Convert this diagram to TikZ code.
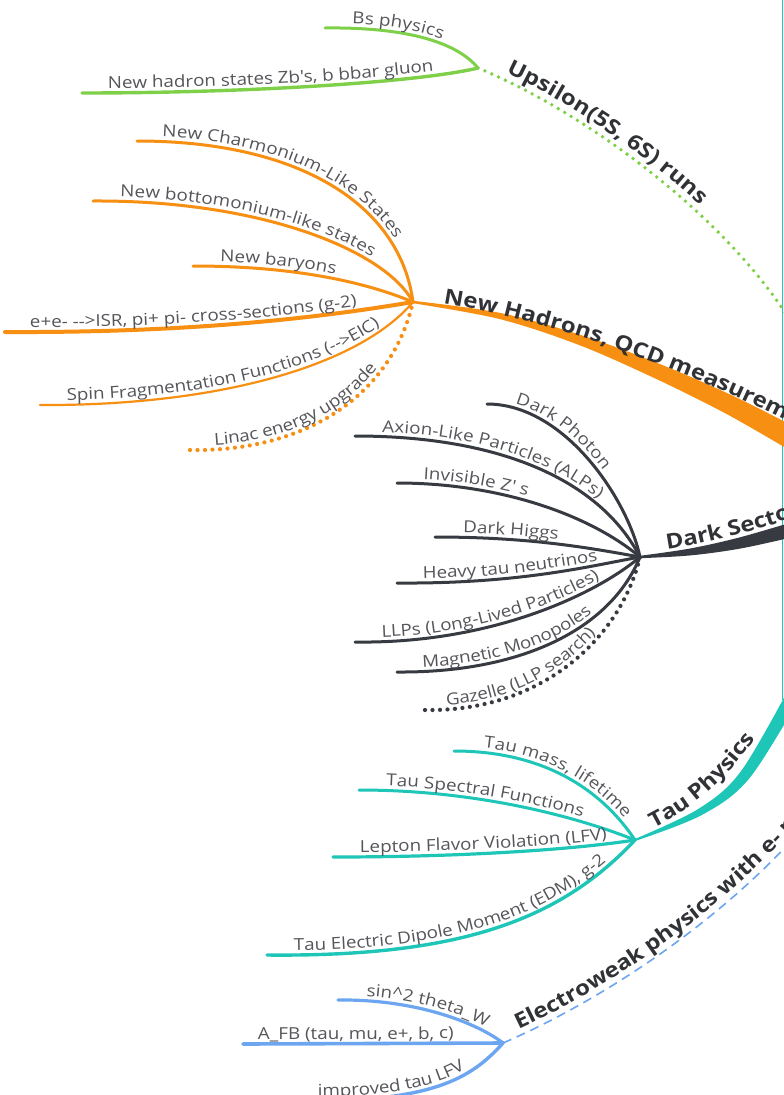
\documentclass[tikz,border=0pt]{standalone}
\usepackage{fontspec}
\setmainfont{Open Sans}[FakeStretch=1.14]
\usetikzlibrary{decorations.text,calc}
\definecolor{cgreen}{RGB}{125,208,72}
\definecolor{corange}{RGB}{247,143,18}
\definecolor{cdark}{RGB}{55,58,64}
\definecolor{cteal}{RGB}{30,198,184}
\definecolor{cblue}{RGB}{108,165,240}
\definecolor{ctext}{RGB}{85,85,90}
\definecolor{ctitle}{RGB}{48,50,54}
\newcommand\leaffont{\fontsize{16.5}{18}\selectfont}
\newcommand\titlefont{\fontsize{21}{24}\selectfont\bfseries}
\tikzset{
  branch/.style={line width=#1, line cap=round, line join=round},
  dotline/.style={line width=4.2pt, line cap=round, dash pattern=on 0pt off 7.5pt},
  lbl/.style 2 args={decorate, decoration={text along path,
      text={|\leaffont|#2}, text color=ctext, raise=4.5pt,
      text align={left indent=#1}}},
  tlbl/.style n args={3}{decorate, decoration={text along path,
      text={|\titlefont|#3}, text color=ctitle, raise=#2,
      text align={left indent=#1}}},
  sm/.style={smooth, tension=0.55},
}
% #1 line style, #2 leaf end, #3 control 1, #4 control 2, #5 hub, #6 indent, #7 text
\newcommand\leafline[7]{%
  \draw[#1] (#2) .. controls (#3) and (#4) .. (#5);
  \path[lbl={#6}{#7}] (#2) .. controls (#3) and (#4) .. (#5) -- ($(#4)!3!(#5)$);
}
\begin{document}
\begin{tikzpicture}[x=1pt,y=-1pt]
\useasboundingbox (0,0) rectangle (784,1095);
\fill[white] (0,0) rectangle (784,1095);

% thin teal line at right edge
\coordinate (edgeTop) at (782.6,0);
\coordinate (edgeBot) at (782.6,700);
\draw[cteal, line width=1.6pt] (edgeTop) -- (edgeBot);

% ---------------- Green: Upsilon ----------------
\coordinate (gHub) at (478,68);
\coordinate (gBs) at (325,28);
\coordinate (gNH) at (82,93);
\coordinate (gEnd) at (790,320);
\leafline{cgreen, branch=3pt}{gBs}{400,27}{455,40}{gHub}{27pt}{Bs physics}
\leafline{cgreen, branch=3.4pt}{gNH}{250,93}{420,82}{gHub}{26pt}{New hadron states Zb{\textquotesingle}s, b bbar gluon}
\draw[cgreen, dotline, line width=3.8pt] (gHub) .. controls (580,110) and (720,210) .. (gEnd);
\path[tlbl={27pt}{7pt}{Upsilon(5S, 6S) runs}] (gHub) .. controls (580,110) and (720,210) .. (gEnd) -- (860,430);

% ---------------- Orange: New Hadrons ----------------
\coordinate (oHub) at (413,302);
\coordinate (oC) at (137,141);
\coordinate (oB) at (93,201);
\coordinate (oBa) at (193,266);
\coordinate (oI) at (5,332);
\coordinate (oS) at (40,405);
\coordinate (oL) at (190,450);
\coordinate (oEnd) at (800,431);
\fill[corange] plot[sm] coordinates {(413.2,300.8) (500.6,313) (581.5,335.2) (659.8,364) (734,396.3) (800.2,429.7)}
  -- plot[sm] coordinates {(789.8,450.3) (726,413.7) (654.2,378) (578.5,344.8) (499.4,319) (412.8,303.2)} -- cycle;
\path[tlbl={30pt}{3pt}{New Hadrons, QCD measurements}]
  (oHub) .. controls (540,318) and (680,370) .. (oEnd) -- (960,517);
\leafline{corange, branch=3pt}{oC}{300,141}{400,205}{oHub}{25pt}{New Charmonium-Like States}
\leafline{corange, branch=3pt}{oB}{260,200}{385,250}{oHub}{27pt}{New bottomonium-like states}
\leafline{corange, branch=3pt}{oBa}{300,266}{370,284}{oHub}{27pt}{New baryons}
\leafline{corange, branch=4pt}{oI}{200,333}{330,316}{oHub}{25pt}{e+e- -->ISR, pi+ pi- cross-sections (g-2)}
\leafline{corange, branch=2.2pt}{oS}{220,406}{360,365}{oHub}{27pt}{Spin Fragmentation Functions (-->EIC)}
\leafline{corange, dotline}{oL}{300,452}{390,400}{oHub}{25pt}{Linac energy upgrade}

% ---------------- Dark: Dark Sector ----------------
\coordinate (dHub) at (640,557);
\coordinate (dPh) at (487,404);
\coordinate (dAx) at (355,436);
\coordinate (dZ) at (397,483);
\coordinate (dHi) at (435,537);
\coordinate (dHe) at (397,583);
\coordinate (dLL) at (355,642);
\coordinate (dMM) at (397,672);
\coordinate (dGz) at (425,710);
\coordinate (dEnd) at (793,522);
\fill[cdark] plot[sm] coordinates {(639.9,555.8) (689.6,548.6) (738.9,537.6) (793.3,521.8)}
  -- plot[sm] coordinates {(796.7,536.2) (741.1,548.4) (690.4,555.4) (640.1,558.2)} -- cycle;
\path[tlbl={28pt}{4pt}{Dark Sector}]
  (dHub) .. controls (690,552) and (740,540) .. (dEnd) -- (900,493);
\leafline{cdark, branch=3pt}{dPh}{565,404}{628,500}{dHub}{27pt}{Dark Photon}
\leafline{cdark, branch=3pt}{dAx}{500,436}{600,480}{dHub}{27pt}{Axion-Like Particles (ALPs)}
\leafline{cdark, branch=3pt}{dZ}{500,483}{590,515}{dHub}{26pt}{Invisible Z{\textquotesingle} s}
\leafline{cdark, branch=3pt}{dHi}{530,537}{590,548}{dHub}{28pt}{Dark Higgs}
\leafline{cdark, branch=3pt}{dHe}{520,584}{590,566}{dHub}{26pt}{Heavy tau neutrinos}
\leafline{cdark, branch=3pt}{dLL}{490,644}{595,595}{dHub}{27pt}{LLPs (Long-Lived Particles)}
\leafline{cdark, branch=3pt}{dMM}{520,673}{610,630}{dHub}{26pt}{Magnetic Monopoles}
\leafline{cdark, dotline}{dGz}{540,712}{620,640}{dHub}{22pt}{Gazelle (LLP search)}

% ---------------- Teal: Tau Physics ----------------
\coordinate (tHub) at (635,840);
\coordinate (tMa) at (454,751);
\coordinate (tSp) at (359,790);
\coordinate (tLF) at (333,857);
\coordinate (tED) at (267,955);
\coordinate (tEnd) at (789,688);
\fill[cteal] plot[sm] coordinates {(634.6,839.1) (698.2,809) (740.7,771.6) (789,688.4)}
  -- plot[sm] coordinates {(801,695.6) (749.3,778.4) (701.8,815) (635.4,840.9)} -- cycle;
\path[tlbl={22pt}{3pt}{Tau Physics}]
  (tHub) .. controls (690,818) and (745,775) .. (tEnd) -- (840,590);
\leafline{cteal, branch=3pt}{tMa}{550,751}{605,795}{tHub}{29pt}{Tau mass, lifetime}
\leafline{cteal, branch=3pt}{tSp}{480,790}{580,818}{tHub}{27pt}{Tau Spectral Functions}
\leafline{cteal, branch=3.2pt}{tLF}{460,857}{570,850}{tHub}{27pt}{Lepton Flavor Violation (LFV)}
\leafline{cteal, branch=3.4pt}{tED}{460,957}{560,920}{tHub}{27pt}{Tau Electric Dipole Moment (EDM), g-2}

% ---------------- Blue: Electroweak ----------------
\coordinate (bHub) at (503,1043);
\coordinate (bSi) at (338,1000);
\coordinate (bAF) at (243,1044);
\coordinate (bIm) at (300,1101);
\coordinate (bEnd) at (795,837);
\draw[cblue, line width=1.6pt, dash pattern=on 9pt off 6pt]
  (bHub) .. controls (580,1010) and (700,940) .. (bEnd);
\path[tlbl={20pt}{6pt}{Electroweak physics with e- polarization}]
  (bHub) .. controls (580,1010) and (700,940) .. (bEnd) -- (900,723);
\leafline{cblue, branch=3.2pt}{bSi}{420,999}{480,1025}{bHub}{28pt}{sin{\textasciicircum}2 theta{\textunderscore}W}
\draw[cblue, branch=3.6pt] (bAF) -- (bHub);
\path[lbl={15pt}{A{\textunderscore}FB (tau, mu, e+, b, c)}] (bAF) -- (620,1043);
\leafline{cblue, branch=3.4pt}{bIm}{430,1102}{470,1080}{bHub}{18pt}{improved tau LFV}
\end{tikzpicture}
\end{document}
